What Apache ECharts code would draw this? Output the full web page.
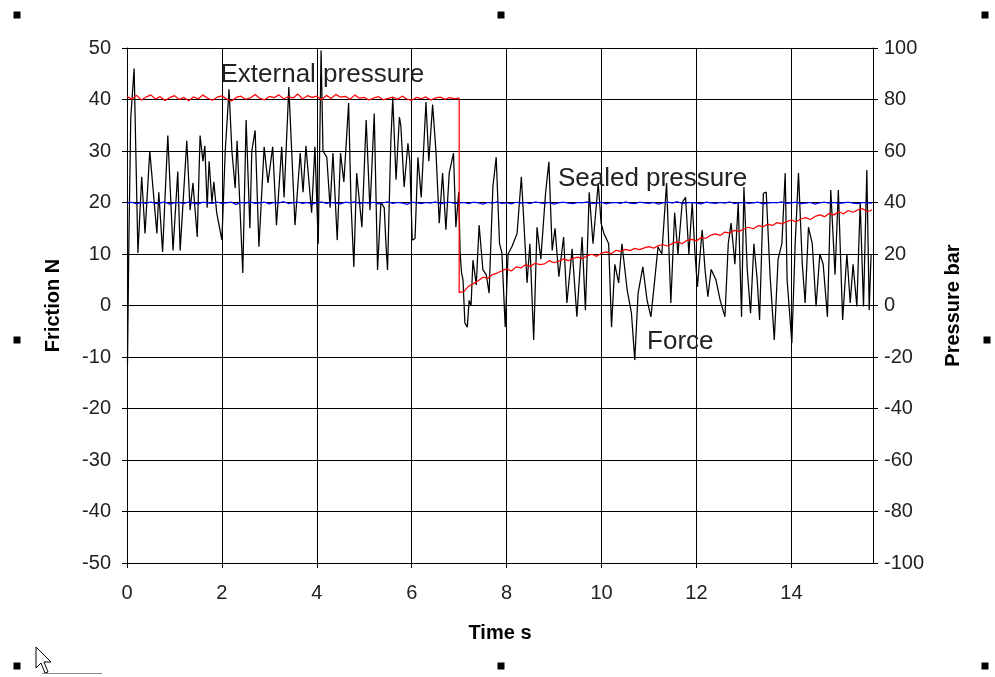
<!DOCTYPE html>
<html>
<head>
<meta charset="utf-8">
<script src="https://cdn.jsdelivr.net/npm/echarts@6/dist/echarts.min.js"></script>
<style>
  html, body { margin: 0; padding: 0; background: #fff; }
  #chart { width: 995px; height: 677px; }
</style>
</head>
<body>
<div id="chart"></div>
<script>
// Friction test: measured force (left axis, N) and pressures (right axis, bar) over time (s)

const timeMax = 15.72;

// Force trace: sample times (s) and friction values (N)
const forceTime = [0.01,0.04,0.08,0.15,0.23,0.31,0.38,0.48,0.63,0.67,0.75,0.86,0.97,1.07,1.12,1.26,1.33,1.39,1.48,1.54,
  1.60,1.64,1.69,1.73,1.79,1.83,1.89,2.00,2.07,2.15,2.21,2.28,2.32,2.44,2.51,2.59,2.63,2.70,2.78,2.89,
  2.97,3.07,3.15,3.26,3.31,3.41,3.54,3.65,3.71,3.77,3.89,3.96,4.03,4.09,4.13,4.21,4.28,4.34,4.43,4.50,
  4.57,4.67,4.72,4.78,4.84,4.95,5.04,5.12,5.21,5.28,5.35,5.42,5.46,5.49,5.56,5.60,5.67,5.74,5.77,5.84,
  5.92,5.96,6.01,6.07,6.13,6.20,6.30,6.36,6.44,6.51,6.58,6.65,6.72,6.79,6.88,6.93,6.99,7.02,7.05,7.08,
  7.12,7.17,7.21,7.25,7.29,7.36,7.42,7.50,7.57,7.63,7.71,7.78,7.85,7.90,7.97,8.03,8.11,8.22,8.31,8.37,
  8.43,8.49,8.57,8.64,8.72,8.82,8.89,8.96,9.02,9.10,9.20,9.27,9.38,9.48,9.59,9.66,9.74,9.82,9.93,9.99,
  10.05,10.15,10.21,10.28,10.36,10.43,10.54,10.63,10.70,10.77,10.87,10.96,11.04,11.11,11.19,11.27,11.37,11.46,11.54,11.61,
  11.70,11.77,11.84,11.91,11.97,12.02,12.12,12.18,12.24,12.31,12.41,12.50,12.60,12.67,12.73,12.81,12.88,12.95,13.00,13.07,
  13.14,13.21,13.28,13.33,13.41,13.47,13.55,13.64,13.72,13.80,13.87,13.91,14.01,14.08,14.15,14.23,14.29,14.36,14.44,14.52,
  14.60,14.67,14.76,14.83,14.92,14.99,15.08,15.17,15.24,15.30,15.38,15.45,15.52,15.59,15.64,15.68];

const forceValue = [-11.5,13,36.6,46,10.2,25,14,30,14,22,10.4,33,10.7,26,10.7,32,18.5,23.8,13.3,33,
  28,31,19,28,20,24,18,12.7,30,42,30,22.8,32,6.3,36,15,30,34,11.4,30.8,
  23.8,30.8,15.6,30.8,21,42.4,15.6,29.6,22,31,18,30.8,12,49.5,30,28.8,19,29.6,12.7,29.6,
  24,39.3,20,7.5,25.7,15.2,36,18.5,37.3,6.9,20,19,11.4,6.9,32,40.3,24.4,36.6,35,23,
  31.5,28,12.7,13,28.8,21,39.5,28,39,30,16,25.7,14.7,25.7,29.6,15.2,22,10.2,6.3,5,
  -3.4,-4.2,1,0,8.8,4,15.6,6.9,6,2.4,23,28.8,12,10.2,-4.2,10,11.4,14,25,15,
  4.4,12,-6.7,15.2,9,21.8,27.9,10.7,15,5.6,13.3,0.5,11,-2.2,13.3,-0.9,22,12,23.8,16,
  14,12,-4.2,8,4.4,12,3,-1.5,-10.6,2.4,7.5,1,-2.2,4,11.4,10,23.8,0.5,18,10,
  20,21,10,20,10,3.6,14.7,7,1.7,7,5,1,-2.2,12,16,8,20,-2.2,23,7,
  -1.5,12,5,-2.8,21.8,22,6,-6.7,9,12,25.7,5,-7.3,12,25.7,8,0.5,15.2,12,-0.2,
  10,8,-2.2,22.4,6,22.4,-2.8,10,0.5,8,-0.2,20,-0.2,26.3,-0.9,10];

// Pressures are logged every 0.1 s
const pressureStep = 0.1;

// External pressure (bar), 0 s to 7.0 s
const externalBefore = [81.2,80.1,81.6,79.8,80.9,81.8,80.2,81.1,79.6,80.7,
  81.5,80.0,80.8,79.5,81.0,80.3,81.7,80.5,79.7,80.9,
  81.4,80.2,79.4,80.8,81.3,80.1,80.6,81.9,80.4,79.9,
  81.2,80.7,81.8,80.3,81.0,80.6,82.1,80.2,81.5,80.8,
  81.3,79.9,81.6,80.4,82.0,80.9,81.2,80.1,81.7,80.5,
  80.8,79.8,80.6,81.1,79.9,80.4,80.9,80.1,81.3,80.2,
  79.7,80.8,80.3,81.0,79.8,80.6,80.9,80.1,80.7,80.3,80.5];

// External pressure (bar), 7.0 s to 15.7 s, after release
const externalAfter = [5,5.5,7.5,8.5,9.6,11,10.5,12,12.6,13.5,
  14.2,13.4,15,14.6,15.8,15.2,16.4,15.9,16.2,17.4,
  16.6,17.2,18.1,17.4,18.3,18.8,18.2,19.4,19.9,19.1,
  20.3,20.8,20.1,21.4,21,21.8,21.3,22.2,21.7,22.4,
  22.9,22.3,23.3,23.6,23.1,24.2,24.7,24,25.3,25.7,
  25.1,26.4,26.1,27.3,27.8,27.2,28.5,28.1,29.2,28.8,
  29.7,30.4,29.8,31,30.6,31.5,31.1,32.2,31.7,32.6,
  33.2,32.5,33.6,34.1,33.4,34.6,35.2,34.5,35.8,35.2,
  36.4,35.6,36.9,36.2,37.1,37.6,36.4,37.2];
const releaseTime = 7.0;

// Sealed pressure (bar), 0 s to 15.7 s
const sealedPressure = [39.8,40.1,39.5,40.0,39.7,40.2,39.6,39.9,40.1,39.4,
  39.9,40.0,39.6,40.2,39.8,39.5,40.1,39.9,39.7,40.2,
  39.6,39.9,40.1,39.3,40.0,39.8,40.2,39.7,39.9,40.1,
  39.5,40.0,39.8,40.3,39.6,39.9,40.1,39.7,40.0,39.4,
  39.9,40.2,39.7,40.0,39.8,39.5,40.1,39.9,40.2,39.6,
  40.0,39.8,40.1,39.5,39.9,40.2,39.7,40.0,39.8,39.3,
  40.1,39.9,39.6,40.0,39.8,40.2,39.5,39.9,40.1,39.7,
  39.8,40.0,39.6,40.1,39.9,39.4,40.0,39.8,40.2,39.7,
  39.9,39.5,40.1,39.8,40.0,39.6,40.2,39.9,39.7,40.0,
  39.4,39.9,40.1,39.8,39.6,40.0,39.9,40.2,39.7,39.8,
  40.1,39.5,39.9,40.0,39.7,40.2,39.8,39.6,40.1,39.9,
  39.7,40.0,39.4,39.9,40.1,39.8,40.3,39.6,39.9,40.0,
  39.8,39.5,40.1,39.9,39.7,40.0,39.8,40.2,39.6,39.9,
  40.0,39.7,39.9,40.1,39.5,39.8,40.0,39.9,40.2,39.7,
  39.9,40.1,39.6,39.8,40.0,39.4,39.9,40.1,39.8,40.0,
  39.7,39.9,40.1,39.8,39.6,40.0,39.9,39.8];

// Axis ranges
const frictionRange = [-50, 50, 10];
const pressureRange = [-100, 100, 20];

const round = v => Math.round(v * 1000) / 1000;
const forceData = forceTime.map((t, i) => [t, forceValue[i]]);
const sealedData = sealedPressure.map((p, i) => [round(i * pressureStep), p]);
const externalData = externalBefore.map((p, i) => [round(i * pressureStep), p])
  .concat(externalAfter.map((p, i) => [round(releaseTime + i * pressureStep), p]));

const FONT = '"Liberation Sans", Arial, sans-serif';
const black = '#000';

const chart = echarts.init(document.getElementById('chart'), null, { renderer: 'canvas' });

// Chart-object selection handles around the frame
const handles = [[17, 15], [501, 15], [985, 15], [17, 340], [987, 340], [17, 666], [501, 666], [985, 666]];

const titleStyle = { fontFamily: FONT, fontWeight: 'bold', fontSize: 20, color: black };
const tickLabel = { fontFamily: FONT, fontSize: 20, color: '#222' };

chart.setOption({
  animation: false,
  backgroundColor: '#fff',
  grid: { left: 127, right: 122, top: 48, bottom: 114 },
  xAxis: {
    type: 'value', min: 0, max: timeMax, interval: 2,
    name: 'Time s', nameLocation: 'middle', nameGap: 60,
    nameTextStyle: titleStyle,
    axisLine: { show: true, onZero: false, lineStyle: { color: black, width: 1 } },
    axisTick: { show: true, length: 5, lineStyle: { color: black } },
    axisLabel: Object.assign({ margin: 20, showMaxLabel: false }, tickLabel),
    splitLine: { show: true, lineStyle: { color: black, width: 1 } }
  },
  yAxis: [
    {
      type: 'value', position: 'left',
      min: frictionRange[0], max: frictionRange[1], interval: frictionRange[2],
      name: 'Friction N', nameLocation: 'middle', nameGap: 64, nameRotate: 90,
      nameTextStyle: titleStyle,
      axisLine: { show: true, lineStyle: { color: black, width: 1 } },
      axisTick: { show: true, length: 5, lineStyle: { color: black } },
      axisLabel: Object.assign({ margin: 16 }, tickLabel),
      splitLine: { show: true, lineStyle: { color: black, width: 1 } }
    },
    {
      type: 'value', position: 'right',
      min: pressureRange[0], max: pressureRange[1], interval: pressureRange[2],
      name: 'Pressure bar', nameLocation: 'middle', nameGap: 70, nameRotate: 90,
      nameTextStyle: titleStyle,
      axisLine: { show: true, lineStyle: { color: black, width: 1 } },
      axisTick: { show: true, length: 5, lineStyle: { color: black } },
      axisLabel: Object.assign({ margin: 11 }, tickLabel),
      splitLine: { show: false }
    }
  ],
  series: [
    {
      name: 'Force', type: 'line', yAxisIndex: 0, data: forceData,
      symbol: 'none', lineStyle: { color: black, width: 1.25 }, z: 2,
      markPoint: {
        symbol: 'circle', symbolSize: 0,
        label: {
          show: true, position: 'right', distance: 0,
          fontFamily: FONT, fontSize: 26, color: '#222',
          formatter: p => p.name
        },
        data: [
          { name: 'External pressure', coord: [1.97, 44.8] },
          { name: 'Sealed pressure', coord: [9.08, 24.6] },
          { name: 'Force', coord: [10.96, -7.0] }
        ]
      }
    },
    {
      name: 'Sealed pressure', type: 'line', yAxisIndex: 1, data: sealedData,
      symbol: 'none', lineStyle: { color: '#0000ff', width: 1.25 }, z: 3
    },
    {
      name: 'External pressure', type: 'line', yAxisIndex: 1, data: externalData,
      symbol: 'none', lineStyle: { color: '#ff0000', width: 1.25 }, z: 4
    }
  ],
  graphic: handles.map(([x, y]) => ({
    type: 'rect', shape: { x: x - 3.5, y: y - 3.5, width: 7, height: 7 },
    style: { fill: black }, silent: true
  })).concat([
    {
      type: 'polygon', silent: true,
      shape: { points: [[36, 647], [36, 668], [41, 663], [45, 673], [48, 672], [44, 662], [51, 662]] },
      style: { fill: '#fff', stroke: black, lineWidth: 1 }
    },
    {
      type: 'line', silent: true,
      shape: { x1: 42, y1: 673.5, x2: 102, y2: 673.5 },
      style: { stroke: '#888', lineWidth: 1 }
    }
  ])
});
</script>
</body>
</html>
